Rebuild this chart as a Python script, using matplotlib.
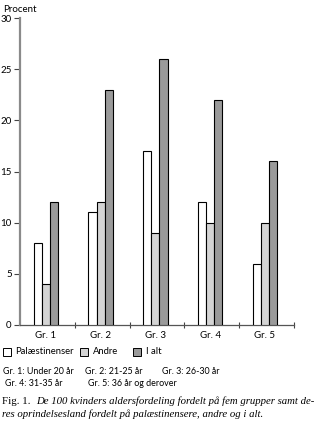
import matplotlib
matplotlib.use("Agg")
import matplotlib.pyplot as plt
from matplotlib.patches import Rectangle
import numpy as np

groups = ["Gr. 1", "Gr. 2", "Gr. 3", "Gr. 4", "Gr. 5"]
series_names = ["Palæstinenser", "Andre", "I alt"]
palaestinensere = [8, 11, 17, 12, 6]
andre = [4, 12, 9, 10, 10]
i_alt = [12, 23, 26, 22, 16]
yticks = [0, 5, 10, 15, 20, 25, 30]
notes_line1 = ["Gr. 1: Under 20 år", "Gr. 2: 21-25 år", "Gr. 3: 26-30 år"]
notes_line2 = ["Gr. 4: 31-35 år", "Gr. 5: 36 år og derover"]

W, H = 323, 426
fig = plt.figure(figsize=(W / 100, H / 100), dpi=100)
sans = ["Lato", "DejaVu Sans"]
serif = ["Liberation Serif", "DejaVu Serif"]

ax = fig.add_axes([20 / W, 101 / H, 274 / W, 307 / H])
colors = ["white", "#d4d4d4", "#9a9a9a"]
x = np.arange(len(groups))
bw = 0.148
for i, (vals, c) in enumerate(zip([palaestinensere, andre, i_alt], colors)):
    ax.bar(x + (i - 1) * bw - 0.03, vals, width=bw, color=c, edgecolor="black",
           linewidth=0.8, zorder=3)

ax.set_xlim(-0.5, 4.5)
ax.set_ylim(0, 30)
ax.spines["top"].set_visible(False)
ax.spines["right"].set_visible(False)
ax.spines["left"].set_color("#8a8a8a")
ax.spines["left"].set_linewidth(1.6)
ax.spines["bottom"].set_color("#555555")
ax.spines["bottom"].set_linewidth(0.9)
ax.set_yticks(yticks)
ax.set_yticklabels([str(v) for v in yticks], fontsize=7, family=sans)
ax.tick_params(axis="y", length=4, width=0.8, pad=2, color="#444444")
ax.set_xticks(np.arange(0.5, 5.0, 1.0))
ax.set_xticklabels([])
ax.tick_params(axis="x", length=4, width=0.8, direction="inout", color="#444444")
for xi, g in zip(x, groups):
    ax.text(xi - 0.03, -0.6, g, ha="center", va="top", fontsize=7, family=sans)

fig.text(3 / W, 1 - 10 / H, "Procent", fontsize=7, family=sans, va="center", ha="left")

# legend
leg_pos = [(3, 15), (80, 93), (133, 146)]
for (bx, tx), name, c in zip(leg_pos, series_names, colors):
    fig.add_artist(Rectangle((bx / W, 1 - 356 / H), 8 / W, 8 / H, transform=fig.transFigure,
                             facecolor=c, edgecolor="black", linewidth=0.7))
    fig.text(tx / W, 1 - 352 / H, name, fontsize=6.8, family=sans, va="center", ha="left")

for xp, t in zip([3, 85, 162], notes_line1):
    fig.text(xp / W, 1 - 372 / H, t, fontsize=6.4, family=sans, va="center", ha="left")
for xp, t in zip([5, 88], notes_line2):
    fig.text(xp / W, 1 - 384 / H, t, fontsize=6.4, family=sans, va="center", ha="left")

fig.text(2 / W, 1 - 401 / H, "Fig. 1.", fontsize=7.8, family=serif, va="center", ha="left")
fig.text(36 / W, 1 - 401 / H, "De 100 kvinders aldersfordeling fordelt på fem grupper samt de-",
         fontsize=7.75, family=serif, style="italic", va="center", ha="left")
fig.text(2 / W, 1 - 414 / H, "res oprindelsesland fordelt på palæstinensere, andre og i alt.",
         fontsize=7.75, family=serif, style="italic", va="center", ha="left")

fig.savefig("out.png", dpi=100)
